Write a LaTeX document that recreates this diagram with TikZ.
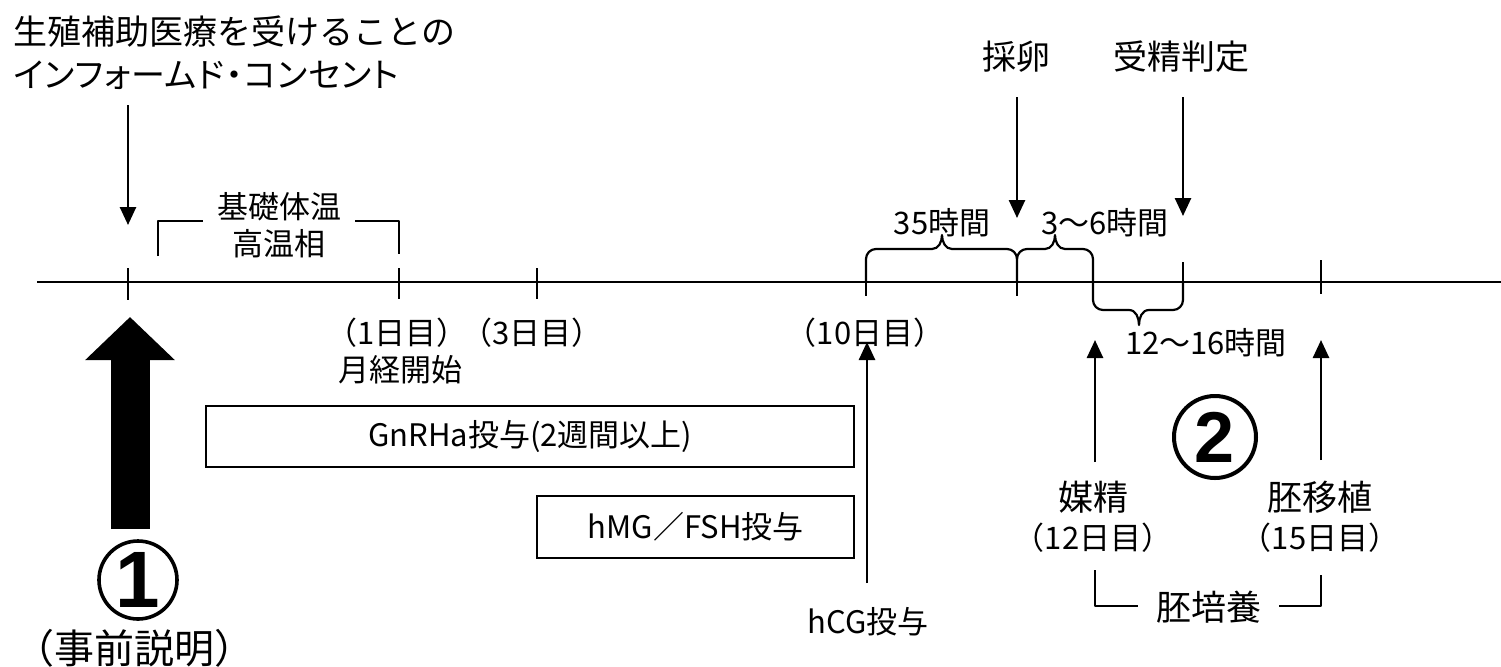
\documentclass[tikz,border=0pt]{standalone}
\usepackage{fontspec}
\setmainfont{Noto Sans CJK JP}
\newfontfamily\jpp{Noto Sans CJK JP}[RawFeature=+palt, LetterSpace=3]
\newfontfamily\circfont{Liberation Sans}
\usetikzlibrary{arrows.meta}
\begin{document}
\begin{tikzpicture}[x=0.5pt,y=-0.5pt,
  lbl/.style={inner sep=0pt, font=\fontsize{15.5}{18}\selectfont},
  lblm/.style={inner sep=0pt, font=\fontsize{17.5}{20}\selectfont},
  lblL/.style={inner sep=0pt, font=\fontsize{17}{20}\selectfont},
  lblXL/.style={inner sep=0pt, font=\fontsize{20}{24}\selectfont},
  arr/.style={line width=1.3pt, -{Triangle[length=9pt,width=8pt]}},
  ln/.style={line width=1.1pt},
  brk/.style={line width=1.1pt, line join=round},
  boxn/.style={draw, line width=1.2pt, inner sep=0pt, font=\fontsize{15.5}{18}\selectfont},
  numc/.style={circle, draw, line width=1.8pt, inner sep=0pt, font=\circfont\bfseries}
]
\useasboundingbox (0,0) rectangle (1501,666);

% ---------- timeline ----------
\coordinate (tl0) at (37,282);
\coordinate (tl1) at (1501,282);
\draw[ln] (tl0) -- (tl1);
\foreach \n/\xx/\ya/\yb in {t0/128/268/300, t1/399/268/299, t3/537/268/299, t10/866/282/296, tE/1017/282/296, tF/1183/262/282, tT/1321/260/294}{
  \coordinate (\n) at (\xx,282);
  \draw[ln] (\xx,\ya) -- (\xx,\yb);
}

% ---------- top-left informed consent ----------
\node[lblL, anchor=west] (ic1) at (13,32) {生殖補助医療を受けることの};
\node[lblL, anchor=west] (ic2) at (13,75) {\jpp インフォームド・コンセント};
\coordinate (icA) at (128,105);
\coordinate (icB) at (128,225);
\draw[arr] (icA) -- (icB);

% ---------- basal body temperature ----------
\node[lbl] (bbt1) at (279,207) {基礎体温};
\node[lbl] (bbt2) at (279,244) {高温相};
\draw[brk] (158,256) -- (158,221) -- (203,221);
\draw[brk] (355,221) -- (399,221) -- (399,254);

% ---------- day labels ----------
\node[lbl] (d1) at (397,333) {（1日目）};
\node[lbl] (d3) at (532,333) {（3日目）};
\node[lbl] (mens) at (400,370) {月経開始};
\node[lbl] (d10) at (865,333) {（10日目）};

% ---------- drug boxes ----------
\node[boxn, anchor=north west, minimum width=324pt, minimum height=30.5pt] (gnrh) at (205,405) {GnRHa投与(2週間以上)};
\node[boxn, anchor=north west, minimum width=158.5pt, minimum height=31pt] (hmg) at (536,495) {hMG／FSH投与};

% ---------- hCG ----------
\node[lbl] (hcg) at (868,622) {hCG投与};
\coordinate (hcgS) at (867,583);
\coordinate (hcgE) at (867,342);
\draw[arr] (hcgS) -- (hcgE);

% ---------- big arrow and (1) ----------
\node[numc, minimum size=39pt, font=\circfont\bfseries\fontsize{40}{40}\selectfont] (c1) at (138,580) {1};
\node[lblXL] (jizen) at (135,648) {（事前説明）};
\coordinate (bigS) at (130,529);
\coordinate (bigE) at (130,317);
\draw[line width=19.5pt, -{Triangle[length=21.5pt,width=43.5pt]}] (bigS) -- (bigE);

% ---------- oocyte retrieval / fertilisation check ----------
\node[lblL] (sai) at (1016,57) {採卵};
\node[lblL] (jusei) at (1181,57) {受精判定};
\coordinate (saiS) at (1017,97);
\coordinate (saiE) at (1017,218);
\coordinate (juS) at (1183,97);
\coordinate (juE) at (1183,216);
\draw[arr] (saiS) -- (saiE);
\draw[arr] (juS) -- (juE);

% ---------- braces ----------
\node[lbl] (h35) at (942,223) {35時間};
\node[lbl] (h36) at (1105,223) {3～6時間};
\node[lbl] (h1216) at (1206,343) {12～16時間};
\draw[brk] (866,282) -- (866,259) to[out=90,in=180] (876,249) -- (932,249)
  to[out=0,in=270] (942,235) to[out=270,in=180] (952,249) -- (1007,249)
  to[out=0,in=90] (1017,259) -- (1017,282);
\draw[brk] (1017,259) to[out=90,in=180] (1027,249) -- (1045,249)
  to[out=0,in=270] (1055,235) to[out=270,in=180] (1065,249) -- (1083,249)
  to[out=0,in=90] (1093,259) -- (1093,300) to[out=270,in=180] (1103,310) -- (1129,310)
  to[out=0,in=90] (1139,325) to[out=90,in=180] (1149,310) -- (1173,310)
  to[out=0,in=270] (1183,300) -- (1183,282);

% ---------- insemination / embryo transfer ----------
\node[lblm] (bai) at (1093,497) {媒精};
\node[lbl] (d12) at (1093,538) {（12日目）};
\node[lblm] (ET) at (1320,497) {胚移植};
\node[lbl] (d15) at (1320,538) {（15日目）};
\coordinate (baiS) at (1095,462);
\coordinate (baiE) at (1095,340);
\coordinate (etS) at (1321,460);
\coordinate (etE) at (1321,340);
\draw[arr] (baiS) -- (baiE);
\draw[arr] (etS) -- (etE);
\node[numc, minimum size=41pt, line width=2pt, font=\circfont\bfseries\fontsize{36}{36}\selectfont] (c2) at (1215,437) {2};

% ---------- embryo culture ----------
\node[lblm] (culture) at (1209,607) {胚培養};
\draw[brk] (1095,570) -- (1095,606) -- (1138,606);
\draw[brk] (1279,606) -- (1321,606) -- (1321,575);
\end{tikzpicture}
\end{document}
